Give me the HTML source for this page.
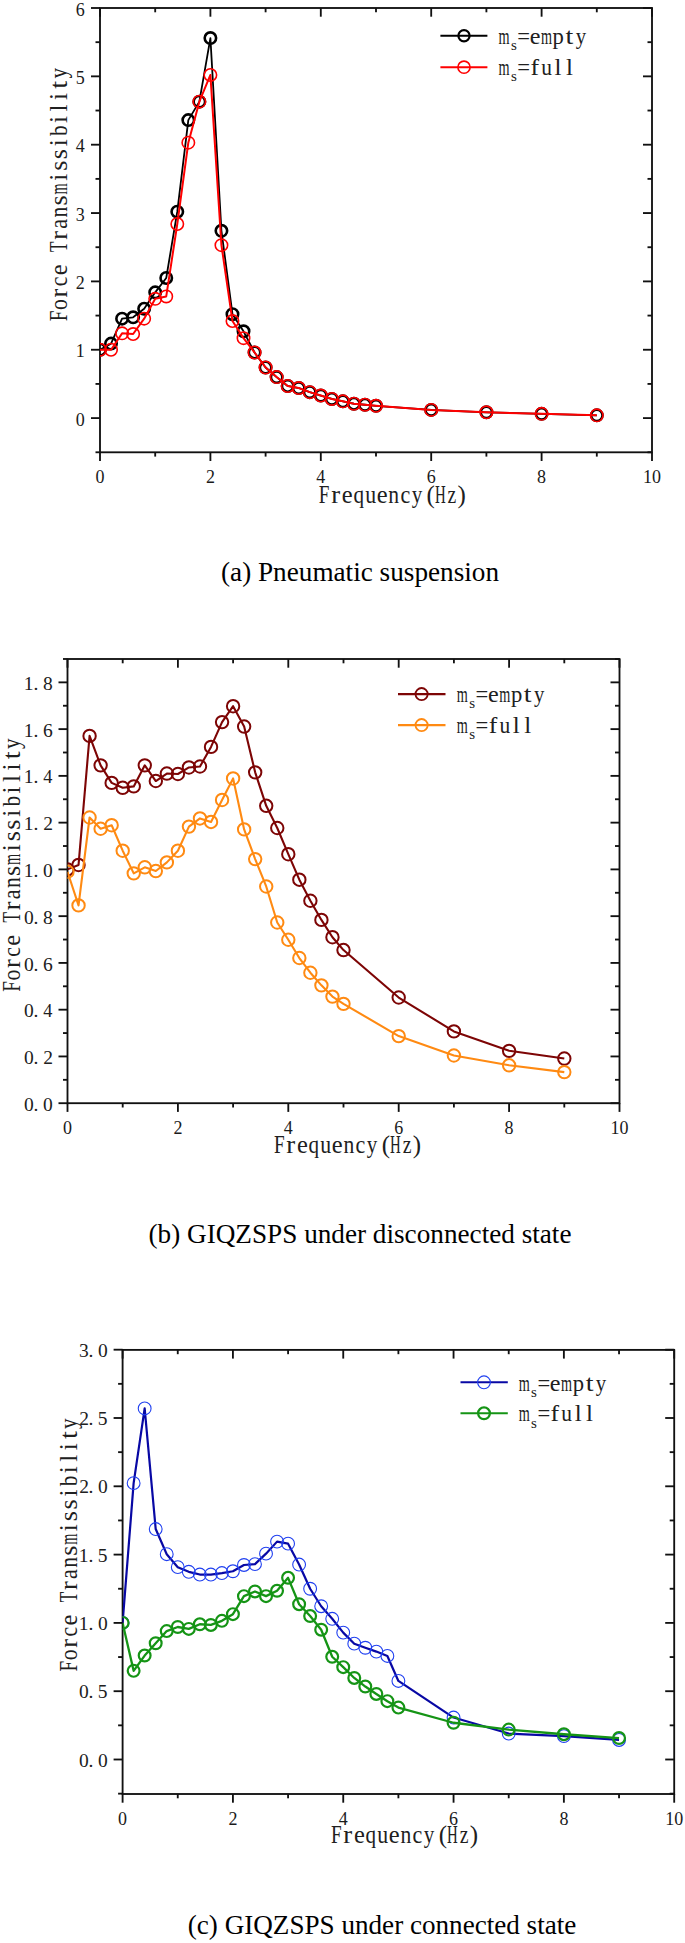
<!DOCTYPE html>
<html><head><meta charset="utf-8"><style>html,body{margin:0;padding:0;background:#fff;overflow:hidden;}svg{display:block;}</style></head>
<body>
<svg width="685" height="1943" viewBox="0 0 685 1943">
<rect width="685" height="1943" fill="#fff"/>
<rect x="100" y="8" width="552" height="444.3" fill="none" stroke="#111" stroke-width="1.85"/>
<line x1="95.5" y1="452.28" x2="100" y2="452.28" stroke="#111" stroke-width="1.85"/>
<line x1="652" y1="452.28" x2="647.5" y2="452.28" stroke="#111" stroke-width="1.85"/>
<line x1="91" y1="418.1" x2="100" y2="418.1" stroke="#111" stroke-width="1.85"/>
<line x1="652" y1="418.1" x2="643" y2="418.1" stroke="#111" stroke-width="1.85"/>
<line x1="95.5" y1="383.93" x2="100" y2="383.93" stroke="#111" stroke-width="1.85"/>
<line x1="652" y1="383.93" x2="647.5" y2="383.93" stroke="#111" stroke-width="1.85"/>
<line x1="91" y1="349.75" x2="100" y2="349.75" stroke="#111" stroke-width="1.85"/>
<line x1="652" y1="349.75" x2="643" y2="349.75" stroke="#111" stroke-width="1.85"/>
<line x1="95.5" y1="315.58" x2="100" y2="315.58" stroke="#111" stroke-width="1.85"/>
<line x1="652" y1="315.58" x2="647.5" y2="315.58" stroke="#111" stroke-width="1.85"/>
<line x1="91" y1="281.4" x2="100" y2="281.4" stroke="#111" stroke-width="1.85"/>
<line x1="652" y1="281.4" x2="643" y2="281.4" stroke="#111" stroke-width="1.85"/>
<line x1="95.5" y1="247.23" x2="100" y2="247.23" stroke="#111" stroke-width="1.85"/>
<line x1="652" y1="247.23" x2="647.5" y2="247.23" stroke="#111" stroke-width="1.85"/>
<line x1="91" y1="213.05" x2="100" y2="213.05" stroke="#111" stroke-width="1.85"/>
<line x1="652" y1="213.05" x2="643" y2="213.05" stroke="#111" stroke-width="1.85"/>
<line x1="95.5" y1="178.88" x2="100" y2="178.88" stroke="#111" stroke-width="1.85"/>
<line x1="652" y1="178.88" x2="647.5" y2="178.88" stroke="#111" stroke-width="1.85"/>
<line x1="91" y1="144.7" x2="100" y2="144.7" stroke="#111" stroke-width="1.85"/>
<line x1="652" y1="144.7" x2="643" y2="144.7" stroke="#111" stroke-width="1.85"/>
<line x1="95.5" y1="110.53" x2="100" y2="110.53" stroke="#111" stroke-width="1.85"/>
<line x1="652" y1="110.53" x2="647.5" y2="110.53" stroke="#111" stroke-width="1.85"/>
<line x1="91" y1="76.35" x2="100" y2="76.35" stroke="#111" stroke-width="1.85"/>
<line x1="652" y1="76.35" x2="643" y2="76.35" stroke="#111" stroke-width="1.85"/>
<line x1="95.5" y1="42.18" x2="100" y2="42.18" stroke="#111" stroke-width="1.85"/>
<line x1="652" y1="42.18" x2="647.5" y2="42.18" stroke="#111" stroke-width="1.85"/>
<line x1="91" y1="8" x2="100" y2="8" stroke="#111" stroke-width="1.85"/>
<line x1="652" y1="8" x2="643" y2="8" stroke="#111" stroke-width="1.85"/>
<line x1="100" y1="452.3" x2="100" y2="461" stroke="#111" stroke-width="1.85"/>
<line x1="100" y1="8" x2="100" y2="16.7" stroke="#111" stroke-width="1.85"/>
<line x1="155.2" y1="452.3" x2="155.2" y2="456.6" stroke="#111" stroke-width="1.85"/>
<line x1="155.2" y1="8" x2="155.2" y2="12.3" stroke="#111" stroke-width="1.85"/>
<line x1="210.4" y1="452.3" x2="210.4" y2="461" stroke="#111" stroke-width="1.85"/>
<line x1="210.4" y1="8" x2="210.4" y2="16.7" stroke="#111" stroke-width="1.85"/>
<line x1="265.6" y1="452.3" x2="265.6" y2="456.6" stroke="#111" stroke-width="1.85"/>
<line x1="265.6" y1="8" x2="265.6" y2="12.3" stroke="#111" stroke-width="1.85"/>
<line x1="320.8" y1="452.3" x2="320.8" y2="461" stroke="#111" stroke-width="1.85"/>
<line x1="320.8" y1="8" x2="320.8" y2="16.7" stroke="#111" stroke-width="1.85"/>
<line x1="376" y1="452.3" x2="376" y2="456.6" stroke="#111" stroke-width="1.85"/>
<line x1="376" y1="8" x2="376" y2="12.3" stroke="#111" stroke-width="1.85"/>
<line x1="431.2" y1="452.3" x2="431.2" y2="461" stroke="#111" stroke-width="1.85"/>
<line x1="431.2" y1="8" x2="431.2" y2="16.7" stroke="#111" stroke-width="1.85"/>
<line x1="486.4" y1="452.3" x2="486.4" y2="456.6" stroke="#111" stroke-width="1.85"/>
<line x1="486.4" y1="8" x2="486.4" y2="12.3" stroke="#111" stroke-width="1.85"/>
<line x1="541.6" y1="452.3" x2="541.6" y2="461" stroke="#111" stroke-width="1.85"/>
<line x1="541.6" y1="8" x2="541.6" y2="16.7" stroke="#111" stroke-width="1.85"/>
<line x1="596.8" y1="452.3" x2="596.8" y2="456.6" stroke="#111" stroke-width="1.85"/>
<line x1="596.8" y1="8" x2="596.8" y2="12.3" stroke="#111" stroke-width="1.85"/>
<line x1="652" y1="452.3" x2="652" y2="461" stroke="#111" stroke-width="1.85"/>
<line x1="652" y1="8" x2="652" y2="16.7" stroke="#111" stroke-width="1.85"/>
<clipPath id="c53"><rect x="100" y="8" width="552" height="444.3"/></clipPath>
<g clip-path="url(#c53)">
<polyline points="100,349.75 111.04,343.6 122.08,318.65 133.12,317.28 144.16,308.74 155.2,292.34 166.24,277.98 177.28,211.68 188.32,120.09 199.36,101.64 210.4,38.07 221.44,230.82 232.48,314.21 243.52,331.3 254.56,352.48 265.6,367.52 276.64,377.09 287.68,385.98 298.72,388.03 309.76,392.13 320.8,395.54 331.84,398.96 342.88,401.35 353.92,403.75 364.96,404.77 376,405.8 431.2,409.9 486.4,412.29 541.6,413.86 596.8,415.37" fill="none" stroke="#000" stroke-width="1.8" stroke-linejoin="round"/>
<circle cx="100" cy="349.75" r="5.7" fill="none" stroke="#000" stroke-width="2.6"/>
<circle cx="111.04" cy="343.6" r="5.7" fill="none" stroke="#000" stroke-width="2.6"/>
<circle cx="122.08" cy="318.65" r="5.7" fill="none" stroke="#000" stroke-width="2.6"/>
<circle cx="133.12" cy="317.28" r="5.7" fill="none" stroke="#000" stroke-width="2.6"/>
<circle cx="144.16" cy="308.74" r="5.7" fill="none" stroke="#000" stroke-width="2.6"/>
<circle cx="155.2" cy="292.34" r="5.7" fill="none" stroke="#000" stroke-width="2.6"/>
<circle cx="166.24" cy="277.98" r="5.7" fill="none" stroke="#000" stroke-width="2.6"/>
<circle cx="177.28" cy="211.68" r="5.7" fill="none" stroke="#000" stroke-width="2.6"/>
<circle cx="188.32" cy="120.09" r="5.7" fill="none" stroke="#000" stroke-width="2.6"/>
<circle cx="199.36" cy="101.64" r="5.7" fill="none" stroke="#000" stroke-width="2.6"/>
<circle cx="210.4" cy="38.07" r="5.7" fill="none" stroke="#000" stroke-width="2.6"/>
<circle cx="221.44" cy="230.82" r="5.7" fill="none" stroke="#000" stroke-width="2.6"/>
<circle cx="232.48" cy="314.21" r="5.7" fill="none" stroke="#000" stroke-width="2.6"/>
<circle cx="243.52" cy="331.3" r="5.7" fill="none" stroke="#000" stroke-width="2.6"/>
<circle cx="254.56" cy="352.48" r="5.7" fill="none" stroke="#000" stroke-width="2.6"/>
<circle cx="265.6" cy="367.52" r="5.7" fill="none" stroke="#000" stroke-width="2.6"/>
<circle cx="276.64" cy="377.09" r="5.7" fill="none" stroke="#000" stroke-width="2.6"/>
<circle cx="287.68" cy="385.98" r="5.7" fill="none" stroke="#000" stroke-width="2.6"/>
<circle cx="298.72" cy="388.03" r="5.7" fill="none" stroke="#000" stroke-width="2.6"/>
<circle cx="309.76" cy="392.13" r="5.7" fill="none" stroke="#000" stroke-width="2.6"/>
<circle cx="320.8" cy="395.54" r="5.7" fill="none" stroke="#000" stroke-width="2.6"/>
<circle cx="331.84" cy="398.96" r="5.7" fill="none" stroke="#000" stroke-width="2.6"/>
<circle cx="342.88" cy="401.35" r="5.7" fill="none" stroke="#000" stroke-width="2.6"/>
<circle cx="353.92" cy="403.75" r="5.7" fill="none" stroke="#000" stroke-width="2.6"/>
<circle cx="364.96" cy="404.77" r="5.7" fill="none" stroke="#000" stroke-width="2.6"/>
<circle cx="376" cy="405.8" r="5.7" fill="none" stroke="#000" stroke-width="2.6"/>
<circle cx="431.2" cy="409.9" r="5.7" fill="none" stroke="#000" stroke-width="2.6"/>
<circle cx="486.4" cy="412.29" r="5.7" fill="none" stroke="#000" stroke-width="2.6"/>
<circle cx="541.6" cy="413.86" r="5.7" fill="none" stroke="#000" stroke-width="2.6"/>
<circle cx="596.8" cy="415.37" r="5.7" fill="none" stroke="#000" stroke-width="2.6"/>
<polyline points="100,349.75 111.04,349.75 122.08,333.35 133.12,334.03 144.16,318.65 155.2,298.83 166.24,296.44 177.28,223.99 188.32,142.65 199.36,101.64 210.4,74.98 221.44,245.17 232.48,321.04 243.52,338.13 254.56,352.48 265.6,367.52 276.64,377.09 287.68,385.98 298.72,388.03 309.76,392.13 320.8,395.54 331.84,398.96 342.88,401.35 353.92,403.75 364.96,404.77 376,405.8 431.2,409.9 486.4,412.29 541.6,413.86 596.8,415.37" fill="none" stroke="#f00" stroke-width="2" stroke-linejoin="round"/>
<circle cx="100" cy="349.75" r="6.2" fill="none" stroke="#f00" stroke-width="1.6"/>
<circle cx="111.04" cy="349.75" r="6.2" fill="none" stroke="#f00" stroke-width="1.6"/>
<circle cx="122.08" cy="333.35" r="6.2" fill="none" stroke="#f00" stroke-width="1.6"/>
<circle cx="133.12" cy="334.03" r="6.2" fill="none" stroke="#f00" stroke-width="1.6"/>
<circle cx="144.16" cy="318.65" r="6.2" fill="none" stroke="#f00" stroke-width="1.6"/>
<circle cx="155.2" cy="298.83" r="6.2" fill="none" stroke="#f00" stroke-width="1.6"/>
<circle cx="166.24" cy="296.44" r="6.2" fill="none" stroke="#f00" stroke-width="1.6"/>
<circle cx="177.28" cy="223.99" r="6.2" fill="none" stroke="#f00" stroke-width="1.6"/>
<circle cx="188.32" cy="142.65" r="6.2" fill="none" stroke="#f00" stroke-width="1.6"/>
<circle cx="199.36" cy="101.64" r="6.2" fill="none" stroke="#f00" stroke-width="1.6"/>
<circle cx="210.4" cy="74.98" r="6.2" fill="none" stroke="#f00" stroke-width="1.6"/>
<circle cx="221.44" cy="245.17" r="6.2" fill="none" stroke="#f00" stroke-width="1.6"/>
<circle cx="232.48" cy="321.04" r="6.2" fill="none" stroke="#f00" stroke-width="1.6"/>
<circle cx="243.52" cy="338.13" r="6.2" fill="none" stroke="#f00" stroke-width="1.6"/>
<circle cx="254.56" cy="352.48" r="6.2" fill="none" stroke="#f00" stroke-width="1.6"/>
<circle cx="265.6" cy="367.52" r="6.2" fill="none" stroke="#f00" stroke-width="1.6"/>
<circle cx="276.64" cy="377.09" r="6.2" fill="none" stroke="#f00" stroke-width="1.6"/>
<circle cx="287.68" cy="385.98" r="6.2" fill="none" stroke="#f00" stroke-width="1.6"/>
<circle cx="298.72" cy="388.03" r="6.2" fill="none" stroke="#f00" stroke-width="1.6"/>
<circle cx="309.76" cy="392.13" r="6.2" fill="none" stroke="#f00" stroke-width="1.6"/>
<circle cx="320.8" cy="395.54" r="6.2" fill="none" stroke="#f00" stroke-width="1.6"/>
<circle cx="331.84" cy="398.96" r="6.2" fill="none" stroke="#f00" stroke-width="1.6"/>
<circle cx="342.88" cy="401.35" r="6.2" fill="none" stroke="#f00" stroke-width="1.6"/>
<circle cx="353.92" cy="403.75" r="6.2" fill="none" stroke="#f00" stroke-width="1.6"/>
<circle cx="364.96" cy="404.77" r="6.2" fill="none" stroke="#f00" stroke-width="1.6"/>
<circle cx="376" cy="405.8" r="6.2" fill="none" stroke="#f00" stroke-width="1.6"/>
<circle cx="431.2" cy="409.9" r="6.2" fill="none" stroke="#f00" stroke-width="1.6"/>
<circle cx="486.4" cy="412.29" r="6.2" fill="none" stroke="#f00" stroke-width="1.6"/>
<circle cx="541.6" cy="413.86" r="6.2" fill="none" stroke="#f00" stroke-width="1.6"/>
<circle cx="596.8" cy="415.37" r="6.2" fill="none" stroke="#f00" stroke-width="1.6"/>
</g>
<rect x="67.5" y="659" width="552" height="444.2" fill="none" stroke="#111" stroke-width="1.85"/>
<line x1="58.5" y1="1103.2" x2="67.5" y2="1103.2" stroke="#111" stroke-width="1.85"/>
<line x1="619.5" y1="1103.2" x2="610.5" y2="1103.2" stroke="#111" stroke-width="1.85"/>
<line x1="63" y1="1079.82" x2="67.5" y2="1079.82" stroke="#111" stroke-width="1.85"/>
<line x1="619.5" y1="1079.82" x2="615" y2="1079.82" stroke="#111" stroke-width="1.85"/>
<line x1="58.5" y1="1056.44" x2="67.5" y2="1056.44" stroke="#111" stroke-width="1.85"/>
<line x1="619.5" y1="1056.44" x2="610.5" y2="1056.44" stroke="#111" stroke-width="1.85"/>
<line x1="63" y1="1033.06" x2="67.5" y2="1033.06" stroke="#111" stroke-width="1.85"/>
<line x1="619.5" y1="1033.06" x2="615" y2="1033.06" stroke="#111" stroke-width="1.85"/>
<line x1="58.5" y1="1009.68" x2="67.5" y2="1009.68" stroke="#111" stroke-width="1.85"/>
<line x1="619.5" y1="1009.68" x2="610.5" y2="1009.68" stroke="#111" stroke-width="1.85"/>
<line x1="63" y1="986.3" x2="67.5" y2="986.3" stroke="#111" stroke-width="1.85"/>
<line x1="619.5" y1="986.3" x2="615" y2="986.3" stroke="#111" stroke-width="1.85"/>
<line x1="58.5" y1="962.92" x2="67.5" y2="962.92" stroke="#111" stroke-width="1.85"/>
<line x1="619.5" y1="962.92" x2="610.5" y2="962.92" stroke="#111" stroke-width="1.85"/>
<line x1="63" y1="939.54" x2="67.5" y2="939.54" stroke="#111" stroke-width="1.85"/>
<line x1="619.5" y1="939.54" x2="615" y2="939.54" stroke="#111" stroke-width="1.85"/>
<line x1="58.5" y1="916.16" x2="67.5" y2="916.16" stroke="#111" stroke-width="1.85"/>
<line x1="619.5" y1="916.16" x2="610.5" y2="916.16" stroke="#111" stroke-width="1.85"/>
<line x1="63" y1="892.78" x2="67.5" y2="892.78" stroke="#111" stroke-width="1.85"/>
<line x1="619.5" y1="892.78" x2="615" y2="892.78" stroke="#111" stroke-width="1.85"/>
<line x1="58.5" y1="869.4" x2="67.5" y2="869.4" stroke="#111" stroke-width="1.85"/>
<line x1="619.5" y1="869.4" x2="610.5" y2="869.4" stroke="#111" stroke-width="1.85"/>
<line x1="63" y1="846.02" x2="67.5" y2="846.02" stroke="#111" stroke-width="1.85"/>
<line x1="619.5" y1="846.02" x2="615" y2="846.02" stroke="#111" stroke-width="1.85"/>
<line x1="58.5" y1="822.64" x2="67.5" y2="822.64" stroke="#111" stroke-width="1.85"/>
<line x1="619.5" y1="822.64" x2="610.5" y2="822.64" stroke="#111" stroke-width="1.85"/>
<line x1="63" y1="799.26" x2="67.5" y2="799.26" stroke="#111" stroke-width="1.85"/>
<line x1="619.5" y1="799.26" x2="615" y2="799.26" stroke="#111" stroke-width="1.85"/>
<line x1="58.5" y1="775.88" x2="67.5" y2="775.88" stroke="#111" stroke-width="1.85"/>
<line x1="619.5" y1="775.88" x2="610.5" y2="775.88" stroke="#111" stroke-width="1.85"/>
<line x1="63" y1="752.5" x2="67.5" y2="752.5" stroke="#111" stroke-width="1.85"/>
<line x1="619.5" y1="752.5" x2="615" y2="752.5" stroke="#111" stroke-width="1.85"/>
<line x1="58.5" y1="729.12" x2="67.5" y2="729.12" stroke="#111" stroke-width="1.85"/>
<line x1="619.5" y1="729.12" x2="610.5" y2="729.12" stroke="#111" stroke-width="1.85"/>
<line x1="63" y1="705.74" x2="67.5" y2="705.74" stroke="#111" stroke-width="1.85"/>
<line x1="619.5" y1="705.74" x2="615" y2="705.74" stroke="#111" stroke-width="1.85"/>
<line x1="58.5" y1="682.36" x2="67.5" y2="682.36" stroke="#111" stroke-width="1.85"/>
<line x1="619.5" y1="682.36" x2="610.5" y2="682.36" stroke="#111" stroke-width="1.85"/>
<line x1="63" y1="658.98" x2="67.5" y2="658.98" stroke="#111" stroke-width="1.85"/>
<line x1="619.5" y1="658.98" x2="615" y2="658.98" stroke="#111" stroke-width="1.85"/>
<line x1="67.5" y1="1103.2" x2="67.5" y2="1111.9" stroke="#111" stroke-width="1.85"/>
<line x1="67.5" y1="659" x2="67.5" y2="667.7" stroke="#111" stroke-width="1.85"/>
<line x1="122.7" y1="1103.2" x2="122.7" y2="1107.5" stroke="#111" stroke-width="1.85"/>
<line x1="122.7" y1="659" x2="122.7" y2="663.3" stroke="#111" stroke-width="1.85"/>
<line x1="177.9" y1="1103.2" x2="177.9" y2="1111.9" stroke="#111" stroke-width="1.85"/>
<line x1="177.9" y1="659" x2="177.9" y2="667.7" stroke="#111" stroke-width="1.85"/>
<line x1="233.1" y1="1103.2" x2="233.1" y2="1107.5" stroke="#111" stroke-width="1.85"/>
<line x1="233.1" y1="659" x2="233.1" y2="663.3" stroke="#111" stroke-width="1.85"/>
<line x1="288.3" y1="1103.2" x2="288.3" y2="1111.9" stroke="#111" stroke-width="1.85"/>
<line x1="288.3" y1="659" x2="288.3" y2="667.7" stroke="#111" stroke-width="1.85"/>
<line x1="343.5" y1="1103.2" x2="343.5" y2="1107.5" stroke="#111" stroke-width="1.85"/>
<line x1="343.5" y1="659" x2="343.5" y2="663.3" stroke="#111" stroke-width="1.85"/>
<line x1="398.7" y1="1103.2" x2="398.7" y2="1111.9" stroke="#111" stroke-width="1.85"/>
<line x1="398.7" y1="659" x2="398.7" y2="667.7" stroke="#111" stroke-width="1.85"/>
<line x1="453.9" y1="1103.2" x2="453.9" y2="1107.5" stroke="#111" stroke-width="1.85"/>
<line x1="453.9" y1="659" x2="453.9" y2="663.3" stroke="#111" stroke-width="1.85"/>
<line x1="509.1" y1="1103.2" x2="509.1" y2="1111.9" stroke="#111" stroke-width="1.85"/>
<line x1="509.1" y1="659" x2="509.1" y2="667.7" stroke="#111" stroke-width="1.85"/>
<line x1="564.3" y1="1103.2" x2="564.3" y2="1107.5" stroke="#111" stroke-width="1.85"/>
<line x1="564.3" y1="659" x2="564.3" y2="663.3" stroke="#111" stroke-width="1.85"/>
<line x1="619.5" y1="1103.2" x2="619.5" y2="1111.9" stroke="#111" stroke-width="1.85"/>
<line x1="619.5" y1="659" x2="619.5" y2="667.7" stroke="#111" stroke-width="1.85"/>
<clipPath id="c181"><rect x="67.5" y="659" width="552" height="444.2"/></clipPath>
<g clip-path="url(#c181)">
<polyline points="67.5,869.4 78.54,864.96 89.58,735.9 100.62,765.36 111.66,782.89 122.7,787.8 133.74,786.4 144.78,765.36 155.82,781.02 166.86,773.54 177.9,774.01 188.94,767.46 199.98,766.53 211.02,746.89 222.06,722.11 233.1,706.21 244.14,726.55 255.18,772.37 266.22,805.81 277.26,828.02 288.3,854.2 299.34,879.69 310.38,900.73 321.42,919.9 332.46,937.2 343.5,950.06 398.7,997.52 453.9,1031.42 509.1,1050.83 564.3,1058.54" fill="none" stroke="#7d0505" stroke-width="2.1" stroke-linejoin="round"/>
<circle cx="67.5" cy="869.4" r="6.2" fill="none" stroke="#7d0505" stroke-width="2"/>
<circle cx="78.54" cy="864.96" r="6.2" fill="none" stroke="#7d0505" stroke-width="2"/>
<circle cx="89.58" cy="735.9" r="6.2" fill="none" stroke="#7d0505" stroke-width="2"/>
<circle cx="100.62" cy="765.36" r="6.2" fill="none" stroke="#7d0505" stroke-width="2"/>
<circle cx="111.66" cy="782.89" r="6.2" fill="none" stroke="#7d0505" stroke-width="2"/>
<circle cx="122.7" cy="787.8" r="6.2" fill="none" stroke="#7d0505" stroke-width="2"/>
<circle cx="133.74" cy="786.4" r="6.2" fill="none" stroke="#7d0505" stroke-width="2"/>
<circle cx="144.78" cy="765.36" r="6.2" fill="none" stroke="#7d0505" stroke-width="2"/>
<circle cx="155.82" cy="781.02" r="6.2" fill="none" stroke="#7d0505" stroke-width="2"/>
<circle cx="166.86" cy="773.54" r="6.2" fill="none" stroke="#7d0505" stroke-width="2"/>
<circle cx="177.9" cy="774.01" r="6.2" fill="none" stroke="#7d0505" stroke-width="2"/>
<circle cx="188.94" cy="767.46" r="6.2" fill="none" stroke="#7d0505" stroke-width="2"/>
<circle cx="199.98" cy="766.53" r="6.2" fill="none" stroke="#7d0505" stroke-width="2"/>
<circle cx="211.02" cy="746.89" r="6.2" fill="none" stroke="#7d0505" stroke-width="2"/>
<circle cx="222.06" cy="722.11" r="6.2" fill="none" stroke="#7d0505" stroke-width="2"/>
<circle cx="233.1" cy="706.21" r="6.2" fill="none" stroke="#7d0505" stroke-width="2"/>
<circle cx="244.14" cy="726.55" r="6.2" fill="none" stroke="#7d0505" stroke-width="2"/>
<circle cx="255.18" cy="772.37" r="6.2" fill="none" stroke="#7d0505" stroke-width="2"/>
<circle cx="266.22" cy="805.81" r="6.2" fill="none" stroke="#7d0505" stroke-width="2"/>
<circle cx="277.26" cy="828.02" r="6.2" fill="none" stroke="#7d0505" stroke-width="2"/>
<circle cx="288.3" cy="854.2" r="6.2" fill="none" stroke="#7d0505" stroke-width="2"/>
<circle cx="299.34" cy="879.69" r="6.2" fill="none" stroke="#7d0505" stroke-width="2"/>
<circle cx="310.38" cy="900.73" r="6.2" fill="none" stroke="#7d0505" stroke-width="2"/>
<circle cx="321.42" cy="919.9" r="6.2" fill="none" stroke="#7d0505" stroke-width="2"/>
<circle cx="332.46" cy="937.2" r="6.2" fill="none" stroke="#7d0505" stroke-width="2"/>
<circle cx="343.5" cy="950.06" r="6.2" fill="none" stroke="#7d0505" stroke-width="2"/>
<circle cx="398.7" cy="997.52" r="6.2" fill="none" stroke="#7d0505" stroke-width="2"/>
<circle cx="453.9" cy="1031.42" r="6.2" fill="none" stroke="#7d0505" stroke-width="2"/>
<circle cx="509.1" cy="1050.83" r="6.2" fill="none" stroke="#7d0505" stroke-width="2"/>
<circle cx="564.3" cy="1058.54" r="6.2" fill="none" stroke="#7d0505" stroke-width="2"/>
<polyline points="67.5,871.74 78.54,905.41 89.58,817.5 100.62,828.72 111.66,825.21 122.7,850.7 133.74,873.37 144.78,867.3 155.82,871.04 166.86,862.39 177.9,850.7 188.94,826.61 199.98,818.43 211.02,821.94 222.06,799.96 233.1,778.45 244.14,829.42 255.18,859.11 266.22,886.47 277.26,922.47 288.3,939.77 299.34,958.01 310.38,972.74 321.42,985.36 332.46,996.59 343.5,1003.84 398.7,1036.1 453.9,1055.5 509.1,1065.32 564.3,1072.1" fill="none" stroke="#ff8a12" stroke-width="2.1" stroke-linejoin="round"/>
<circle cx="67.5" cy="871.74" r="6.2" fill="none" stroke="#ff8a12" stroke-width="2"/>
<circle cx="78.54" cy="905.41" r="6.2" fill="none" stroke="#ff8a12" stroke-width="2"/>
<circle cx="89.58" cy="817.5" r="6.2" fill="none" stroke="#ff8a12" stroke-width="2"/>
<circle cx="100.62" cy="828.72" r="6.2" fill="none" stroke="#ff8a12" stroke-width="2"/>
<circle cx="111.66" cy="825.21" r="6.2" fill="none" stroke="#ff8a12" stroke-width="2"/>
<circle cx="122.7" cy="850.7" r="6.2" fill="none" stroke="#ff8a12" stroke-width="2"/>
<circle cx="133.74" cy="873.37" r="6.2" fill="none" stroke="#ff8a12" stroke-width="2"/>
<circle cx="144.78" cy="867.3" r="6.2" fill="none" stroke="#ff8a12" stroke-width="2"/>
<circle cx="155.82" cy="871.04" r="6.2" fill="none" stroke="#ff8a12" stroke-width="2"/>
<circle cx="166.86" cy="862.39" r="6.2" fill="none" stroke="#ff8a12" stroke-width="2"/>
<circle cx="177.9" cy="850.7" r="6.2" fill="none" stroke="#ff8a12" stroke-width="2"/>
<circle cx="188.94" cy="826.61" r="6.2" fill="none" stroke="#ff8a12" stroke-width="2"/>
<circle cx="199.98" cy="818.43" r="6.2" fill="none" stroke="#ff8a12" stroke-width="2"/>
<circle cx="211.02" cy="821.94" r="6.2" fill="none" stroke="#ff8a12" stroke-width="2"/>
<circle cx="222.06" cy="799.96" r="6.2" fill="none" stroke="#ff8a12" stroke-width="2"/>
<circle cx="233.1" cy="778.45" r="6.2" fill="none" stroke="#ff8a12" stroke-width="2"/>
<circle cx="244.14" cy="829.42" r="6.2" fill="none" stroke="#ff8a12" stroke-width="2"/>
<circle cx="255.18" cy="859.11" r="6.2" fill="none" stroke="#ff8a12" stroke-width="2"/>
<circle cx="266.22" cy="886.47" r="6.2" fill="none" stroke="#ff8a12" stroke-width="2"/>
<circle cx="277.26" cy="922.47" r="6.2" fill="none" stroke="#ff8a12" stroke-width="2"/>
<circle cx="288.3" cy="939.77" r="6.2" fill="none" stroke="#ff8a12" stroke-width="2"/>
<circle cx="299.34" cy="958.01" r="6.2" fill="none" stroke="#ff8a12" stroke-width="2"/>
<circle cx="310.38" cy="972.74" r="6.2" fill="none" stroke="#ff8a12" stroke-width="2"/>
<circle cx="321.42" cy="985.36" r="6.2" fill="none" stroke="#ff8a12" stroke-width="2"/>
<circle cx="332.46" cy="996.59" r="6.2" fill="none" stroke="#ff8a12" stroke-width="2"/>
<circle cx="343.5" cy="1003.84" r="6.2" fill="none" stroke="#ff8a12" stroke-width="2"/>
<circle cx="398.7" cy="1036.1" r="6.2" fill="none" stroke="#ff8a12" stroke-width="2"/>
<circle cx="453.9" cy="1055.5" r="6.2" fill="none" stroke="#ff8a12" stroke-width="2"/>
<circle cx="509.1" cy="1065.32" r="6.2" fill="none" stroke="#ff8a12" stroke-width="2"/>
<circle cx="564.3" cy="1072.1" r="6.2" fill="none" stroke="#ff8a12" stroke-width="2"/>
</g>
<rect x="122.6" y="1349.9" width="551.6" height="444.1" fill="none" stroke="#111" stroke-width="1.85"/>
<line x1="118.1" y1="1793.65" x2="122.6" y2="1793.65" stroke="#111" stroke-width="1.85"/>
<line x1="674.2" y1="1793.65" x2="669.7" y2="1793.65" stroke="#111" stroke-width="1.85"/>
<line x1="113.6" y1="1759.5" x2="122.6" y2="1759.5" stroke="#111" stroke-width="1.85"/>
<line x1="674.2" y1="1759.5" x2="665.2" y2="1759.5" stroke="#111" stroke-width="1.85"/>
<line x1="118.1" y1="1725.35" x2="122.6" y2="1725.35" stroke="#111" stroke-width="1.85"/>
<line x1="674.2" y1="1725.35" x2="669.7" y2="1725.35" stroke="#111" stroke-width="1.85"/>
<line x1="113.6" y1="1691.2" x2="122.6" y2="1691.2" stroke="#111" stroke-width="1.85"/>
<line x1="674.2" y1="1691.2" x2="665.2" y2="1691.2" stroke="#111" stroke-width="1.85"/>
<line x1="118.1" y1="1657.05" x2="122.6" y2="1657.05" stroke="#111" stroke-width="1.85"/>
<line x1="674.2" y1="1657.05" x2="669.7" y2="1657.05" stroke="#111" stroke-width="1.85"/>
<line x1="113.6" y1="1622.9" x2="122.6" y2="1622.9" stroke="#111" stroke-width="1.85"/>
<line x1="674.2" y1="1622.9" x2="665.2" y2="1622.9" stroke="#111" stroke-width="1.85"/>
<line x1="118.1" y1="1588.75" x2="122.6" y2="1588.75" stroke="#111" stroke-width="1.85"/>
<line x1="674.2" y1="1588.75" x2="669.7" y2="1588.75" stroke="#111" stroke-width="1.85"/>
<line x1="113.6" y1="1554.6" x2="122.6" y2="1554.6" stroke="#111" stroke-width="1.85"/>
<line x1="674.2" y1="1554.6" x2="665.2" y2="1554.6" stroke="#111" stroke-width="1.85"/>
<line x1="118.1" y1="1520.45" x2="122.6" y2="1520.45" stroke="#111" stroke-width="1.85"/>
<line x1="674.2" y1="1520.45" x2="669.7" y2="1520.45" stroke="#111" stroke-width="1.85"/>
<line x1="113.6" y1="1486.3" x2="122.6" y2="1486.3" stroke="#111" stroke-width="1.85"/>
<line x1="674.2" y1="1486.3" x2="665.2" y2="1486.3" stroke="#111" stroke-width="1.85"/>
<line x1="118.1" y1="1452.15" x2="122.6" y2="1452.15" stroke="#111" stroke-width="1.85"/>
<line x1="674.2" y1="1452.15" x2="669.7" y2="1452.15" stroke="#111" stroke-width="1.85"/>
<line x1="113.6" y1="1418" x2="122.6" y2="1418" stroke="#111" stroke-width="1.85"/>
<line x1="674.2" y1="1418" x2="665.2" y2="1418" stroke="#111" stroke-width="1.85"/>
<line x1="118.1" y1="1383.85" x2="122.6" y2="1383.85" stroke="#111" stroke-width="1.85"/>
<line x1="674.2" y1="1383.85" x2="669.7" y2="1383.85" stroke="#111" stroke-width="1.85"/>
<line x1="113.6" y1="1349.7" x2="122.6" y2="1349.7" stroke="#111" stroke-width="1.85"/>
<line x1="674.2" y1="1349.7" x2="665.2" y2="1349.7" stroke="#111" stroke-width="1.85"/>
<line x1="122.6" y1="1794" x2="122.6" y2="1802.7" stroke="#111" stroke-width="1.85"/>
<line x1="122.6" y1="1349.9" x2="122.6" y2="1358.6" stroke="#111" stroke-width="1.85"/>
<line x1="177.76" y1="1794" x2="177.76" y2="1798.3" stroke="#111" stroke-width="1.85"/>
<line x1="177.76" y1="1349.9" x2="177.76" y2="1354.2" stroke="#111" stroke-width="1.85"/>
<line x1="232.92" y1="1794" x2="232.92" y2="1802.7" stroke="#111" stroke-width="1.85"/>
<line x1="232.92" y1="1349.9" x2="232.92" y2="1358.6" stroke="#111" stroke-width="1.85"/>
<line x1="288.08" y1="1794" x2="288.08" y2="1798.3" stroke="#111" stroke-width="1.85"/>
<line x1="288.08" y1="1349.9" x2="288.08" y2="1354.2" stroke="#111" stroke-width="1.85"/>
<line x1="343.24" y1="1794" x2="343.24" y2="1802.7" stroke="#111" stroke-width="1.85"/>
<line x1="343.24" y1="1349.9" x2="343.24" y2="1358.6" stroke="#111" stroke-width="1.85"/>
<line x1="398.4" y1="1794" x2="398.4" y2="1798.3" stroke="#111" stroke-width="1.85"/>
<line x1="398.4" y1="1349.9" x2="398.4" y2="1354.2" stroke="#111" stroke-width="1.85"/>
<line x1="453.56" y1="1794" x2="453.56" y2="1802.7" stroke="#111" stroke-width="1.85"/>
<line x1="453.56" y1="1349.9" x2="453.56" y2="1358.6" stroke="#111" stroke-width="1.85"/>
<line x1="508.72" y1="1794" x2="508.72" y2="1798.3" stroke="#111" stroke-width="1.85"/>
<line x1="508.72" y1="1349.9" x2="508.72" y2="1354.2" stroke="#111" stroke-width="1.85"/>
<line x1="563.88" y1="1794" x2="563.88" y2="1802.7" stroke="#111" stroke-width="1.85"/>
<line x1="563.88" y1="1349.9" x2="563.88" y2="1358.6" stroke="#111" stroke-width="1.85"/>
<line x1="619.04" y1="1794" x2="619.04" y2="1798.3" stroke="#111" stroke-width="1.85"/>
<line x1="619.04" y1="1349.9" x2="619.04" y2="1354.2" stroke="#111" stroke-width="1.85"/>
<line x1="674.2" y1="1794" x2="674.2" y2="1802.7" stroke="#111" stroke-width="1.85"/>
<line x1="674.2" y1="1349.9" x2="674.2" y2="1358.6" stroke="#111" stroke-width="1.85"/>
<clipPath id="c297"><rect x="122.6" y="1349.9" width="551.6" height="444.1"/></clipPath>
<g clip-path="url(#c297)">
<polyline points="122.6,1622.9 133.63,1483.16 144.66,1408.44 155.7,1529.06 166.73,1554.19 177.76,1567.17 188.79,1571.81 199.82,1574.54 210.86,1574.54 221.89,1573.04 232.92,1571.27 243.95,1564.98 254.98,1564.16 266.02,1553.64 277.05,1541.62 288.08,1543.67 299.11,1564.57 310.14,1588.75 321.18,1606.23 332.21,1618.8 343.24,1632.6 354.27,1643.66 365.3,1647.76 376.34,1651.59 387.37,1655.96 398.4,1680.95 453.56,1717.56 508.72,1733.55 563.88,1736.14 619.04,1739.97" fill="none" stroke="#0808a4" stroke-width="2.2" stroke-linejoin="round"/>
<circle cx="122.6" cy="1622.9" r="6.4" fill="none" stroke="#2040f0" stroke-width="1.1"/>
<circle cx="133.63" cy="1483.16" r="6.4" fill="none" stroke="#2040f0" stroke-width="1.1"/>
<circle cx="144.66" cy="1408.44" r="6.4" fill="none" stroke="#2040f0" stroke-width="1.1"/>
<circle cx="155.7" cy="1529.06" r="6.4" fill="none" stroke="#2040f0" stroke-width="1.1"/>
<circle cx="166.73" cy="1554.19" r="6.4" fill="none" stroke="#2040f0" stroke-width="1.1"/>
<circle cx="177.76" cy="1567.17" r="6.4" fill="none" stroke="#2040f0" stroke-width="1.1"/>
<circle cx="188.79" cy="1571.81" r="6.4" fill="none" stroke="#2040f0" stroke-width="1.1"/>
<circle cx="199.82" cy="1574.54" r="6.4" fill="none" stroke="#2040f0" stroke-width="1.1"/>
<circle cx="210.86" cy="1574.54" r="6.4" fill="none" stroke="#2040f0" stroke-width="1.1"/>
<circle cx="221.89" cy="1573.04" r="6.4" fill="none" stroke="#2040f0" stroke-width="1.1"/>
<circle cx="232.92" cy="1571.27" r="6.4" fill="none" stroke="#2040f0" stroke-width="1.1"/>
<circle cx="243.95" cy="1564.98" r="6.4" fill="none" stroke="#2040f0" stroke-width="1.1"/>
<circle cx="254.98" cy="1564.16" r="6.4" fill="none" stroke="#2040f0" stroke-width="1.1"/>
<circle cx="266.02" cy="1553.64" r="6.4" fill="none" stroke="#2040f0" stroke-width="1.1"/>
<circle cx="277.05" cy="1541.62" r="6.4" fill="none" stroke="#2040f0" stroke-width="1.1"/>
<circle cx="288.08" cy="1543.67" r="6.4" fill="none" stroke="#2040f0" stroke-width="1.1"/>
<circle cx="299.11" cy="1564.57" r="6.4" fill="none" stroke="#2040f0" stroke-width="1.1"/>
<circle cx="310.14" cy="1588.75" r="6.4" fill="none" stroke="#2040f0" stroke-width="1.1"/>
<circle cx="321.18" cy="1606.23" r="6.4" fill="none" stroke="#2040f0" stroke-width="1.1"/>
<circle cx="332.21" cy="1618.8" r="6.4" fill="none" stroke="#2040f0" stroke-width="1.1"/>
<circle cx="343.24" cy="1632.6" r="6.4" fill="none" stroke="#2040f0" stroke-width="1.1"/>
<circle cx="354.27" cy="1643.66" r="6.4" fill="none" stroke="#2040f0" stroke-width="1.1"/>
<circle cx="365.3" cy="1647.76" r="6.4" fill="none" stroke="#2040f0" stroke-width="1.1"/>
<circle cx="376.34" cy="1651.59" r="6.4" fill="none" stroke="#2040f0" stroke-width="1.1"/>
<circle cx="387.37" cy="1655.96" r="6.4" fill="none" stroke="#2040f0" stroke-width="1.1"/>
<circle cx="398.4" cy="1680.95" r="6.4" fill="none" stroke="#2040f0" stroke-width="1.1"/>
<circle cx="453.56" cy="1717.56" r="6.4" fill="none" stroke="#2040f0" stroke-width="1.1"/>
<circle cx="508.72" cy="1733.55" r="6.4" fill="none" stroke="#2040f0" stroke-width="1.1"/>
<circle cx="563.88" cy="1736.14" r="6.4" fill="none" stroke="#2040f0" stroke-width="1.1"/>
<circle cx="619.04" cy="1739.97" r="6.4" fill="none" stroke="#2040f0" stroke-width="1.1"/>
<polyline points="122.6,1622.9 133.63,1670.85 144.66,1655.55 155.7,1643.25 166.73,1631.1 177.76,1627 188.79,1628.91 199.82,1624.27 210.86,1624.95 221.89,1620.85 232.92,1614.16 243.95,1596.13 254.98,1591.48 266.02,1596.13 277.05,1590.8 288.08,1577.82 299.11,1604.19 310.14,1616.07 321.18,1629.73 332.21,1656.78 343.24,1667.16 354.27,1677.95 365.3,1686.56 376.34,1693.93 387.37,1701.17 398.4,1707.59 453.56,1722.75 508.72,1729.58 563.88,1734.23 619.04,1738.05" fill="none" stroke="#159415" stroke-width="2.3" stroke-linejoin="round"/>
<circle cx="122.6" cy="1622.9" r="5.9" fill="none" stroke="#159415" stroke-width="2.2"/>
<circle cx="133.63" cy="1670.85" r="5.9" fill="none" stroke="#159415" stroke-width="2.2"/>
<circle cx="144.66" cy="1655.55" r="5.9" fill="none" stroke="#159415" stroke-width="2.2"/>
<circle cx="155.7" cy="1643.25" r="5.9" fill="none" stroke="#159415" stroke-width="2.2"/>
<circle cx="166.73" cy="1631.1" r="5.9" fill="none" stroke="#159415" stroke-width="2.2"/>
<circle cx="177.76" cy="1627" r="5.9" fill="none" stroke="#159415" stroke-width="2.2"/>
<circle cx="188.79" cy="1628.91" r="5.9" fill="none" stroke="#159415" stroke-width="2.2"/>
<circle cx="199.82" cy="1624.27" r="5.9" fill="none" stroke="#159415" stroke-width="2.2"/>
<circle cx="210.86" cy="1624.95" r="5.9" fill="none" stroke="#159415" stroke-width="2.2"/>
<circle cx="221.89" cy="1620.85" r="5.9" fill="none" stroke="#159415" stroke-width="2.2"/>
<circle cx="232.92" cy="1614.16" r="5.9" fill="none" stroke="#159415" stroke-width="2.2"/>
<circle cx="243.95" cy="1596.13" r="5.9" fill="none" stroke="#159415" stroke-width="2.2"/>
<circle cx="254.98" cy="1591.48" r="5.9" fill="none" stroke="#159415" stroke-width="2.2"/>
<circle cx="266.02" cy="1596.13" r="5.9" fill="none" stroke="#159415" stroke-width="2.2"/>
<circle cx="277.05" cy="1590.8" r="5.9" fill="none" stroke="#159415" stroke-width="2.2"/>
<circle cx="288.08" cy="1577.82" r="5.9" fill="none" stroke="#159415" stroke-width="2.2"/>
<circle cx="299.11" cy="1604.19" r="5.9" fill="none" stroke="#159415" stroke-width="2.2"/>
<circle cx="310.14" cy="1616.07" r="5.9" fill="none" stroke="#159415" stroke-width="2.2"/>
<circle cx="321.18" cy="1629.73" r="5.9" fill="none" stroke="#159415" stroke-width="2.2"/>
<circle cx="332.21" cy="1656.78" r="5.9" fill="none" stroke="#159415" stroke-width="2.2"/>
<circle cx="343.24" cy="1667.16" r="5.9" fill="none" stroke="#159415" stroke-width="2.2"/>
<circle cx="354.27" cy="1677.95" r="5.9" fill="none" stroke="#159415" stroke-width="2.2"/>
<circle cx="365.3" cy="1686.56" r="5.9" fill="none" stroke="#159415" stroke-width="2.2"/>
<circle cx="376.34" cy="1693.93" r="5.9" fill="none" stroke="#159415" stroke-width="2.2"/>
<circle cx="387.37" cy="1701.17" r="5.9" fill="none" stroke="#159415" stroke-width="2.2"/>
<circle cx="398.4" cy="1707.59" r="5.9" fill="none" stroke="#159415" stroke-width="2.2"/>
<circle cx="453.56" cy="1722.75" r="5.9" fill="none" stroke="#159415" stroke-width="2.2"/>
<circle cx="508.72" cy="1729.58" r="5.9" fill="none" stroke="#159415" stroke-width="2.2"/>
<circle cx="563.88" cy="1734.23" r="5.9" fill="none" stroke="#159415" stroke-width="2.2"/>
<circle cx="619.04" cy="1738.05" r="5.9" fill="none" stroke="#159415" stroke-width="2.2"/>
</g>
<text x="80.3" y="425.7" font-family='"Liberation Serif", serif' font-size="18" text-anchor="middle" fill="#1a1a1a">0</text>
<text x="80.3" y="357.35" font-family='"Liberation Serif", serif' font-size="18" text-anchor="middle" fill="#1a1a1a">1</text>
<text x="80.3" y="289" font-family='"Liberation Serif", serif' font-size="18" text-anchor="middle" fill="#1a1a1a">2</text>
<text x="80.3" y="220.65" font-family='"Liberation Serif", serif' font-size="18" text-anchor="middle" fill="#1a1a1a">3</text>
<text x="80.3" y="152.3" font-family='"Liberation Serif", serif' font-size="18" text-anchor="middle" fill="#1a1a1a">4</text>
<text x="80.3" y="83.95" font-family='"Liberation Serif", serif' font-size="18" text-anchor="middle" fill="#1a1a1a">5</text>
<text x="80.3" y="15.6" font-family='"Liberation Serif", serif' font-size="18" text-anchor="middle" fill="#1a1a1a">6</text>
<text x="100" y="483.2" font-family='"Liberation Serif", serif' font-size="18" text-anchor="middle" fill="#1a1a1a">0</text>
<text x="210.4" y="483.2" font-family='"Liberation Serif", serif' font-size="18" text-anchor="middle" fill="#1a1a1a">2</text>
<text x="320.8" y="483.2" font-family='"Liberation Serif", serif' font-size="18" text-anchor="middle" fill="#1a1a1a">4</text>
<text x="431.2" y="483.2" font-family='"Liberation Serif", serif' font-size="18" text-anchor="middle" fill="#1a1a1a">6</text>
<text x="541.6" y="483.2" font-family='"Liberation Serif", serif' font-size="18" text-anchor="middle" fill="#1a1a1a">8</text>
<text x="652" y="483.2" font-family='"Liberation Serif", serif' font-size="18" text-anchor="middle" fill="#1a1a1a">10</text>
<text transform="translate(24.12,1110.8)" font-family='"Liberation Serif", serif' font-size="19.5" fill="#202020">0</text>
<text transform="translate(33.56,1110.8)" font-family='"Liberation Serif", serif' font-size="19.5" fill="#202020">.</text>
<text transform="translate(43.02,1110.8)" font-family='"Liberation Serif", serif' font-size="19.5" fill="#202020">0</text>
<text transform="translate(24.12,1064.04)" font-family='"Liberation Serif", serif' font-size="19.5" fill="#202020">0</text>
<text transform="translate(33.56,1064.04)" font-family='"Liberation Serif", serif' font-size="19.5" fill="#202020">.</text>
<text transform="translate(43.13,1064.04)" font-family='"Liberation Serif", serif' font-size="19.5" fill="#202020">2</text>
<text transform="translate(24.12,1017.28)" font-family='"Liberation Serif", serif' font-size="19.5" fill="#202020">0</text>
<text transform="translate(33.56,1017.28)" font-family='"Liberation Serif", serif' font-size="19.5" fill="#202020">.</text>
<text transform="translate(43.29,1017.28) scale(0.938,1)" font-family='"Liberation Serif", serif' font-size="19.5" fill="#202020">4</text>
<text transform="translate(24.12,970.52)" font-family='"Liberation Serif", serif' font-size="19.5" fill="#202020">0</text>
<text transform="translate(33.56,970.52)" font-family='"Liberation Serif", serif' font-size="19.5" fill="#202020">.</text>
<text transform="translate(42.9,970.52)" font-family='"Liberation Serif", serif' font-size="19.5" fill="#202020">6</text>
<text transform="translate(24.12,923.76)" font-family='"Liberation Serif", serif' font-size="19.5" fill="#202020">0</text>
<text transform="translate(33.56,923.76)" font-family='"Liberation Serif", serif' font-size="19.5" fill="#202020">.</text>
<text transform="translate(43.02,923.76)" font-family='"Liberation Serif", serif' font-size="19.5" fill="#202020">8</text>
<text transform="translate(23.85,877)" font-family='"Liberation Serif", serif' font-size="19.5" fill="#202020">1</text>
<text transform="translate(33.56,877)" font-family='"Liberation Serif", serif' font-size="19.5" fill="#202020">.</text>
<text transform="translate(43.02,877)" font-family='"Liberation Serif", serif' font-size="19.5" fill="#202020">0</text>
<text transform="translate(23.85,830.24)" font-family='"Liberation Serif", serif' font-size="19.5" fill="#202020">1</text>
<text transform="translate(33.56,830.24)" font-family='"Liberation Serif", serif' font-size="19.5" fill="#202020">.</text>
<text transform="translate(43.13,830.24)" font-family='"Liberation Serif", serif' font-size="19.5" fill="#202020">2</text>
<text transform="translate(23.85,783.48)" font-family='"Liberation Serif", serif' font-size="19.5" fill="#202020">1</text>
<text transform="translate(33.56,783.48)" font-family='"Liberation Serif", serif' font-size="19.5" fill="#202020">.</text>
<text transform="translate(43.29,783.48) scale(0.938,1)" font-family='"Liberation Serif", serif' font-size="19.5" fill="#202020">4</text>
<text transform="translate(23.85,736.72)" font-family='"Liberation Serif", serif' font-size="19.5" fill="#202020">1</text>
<text transform="translate(33.56,736.72)" font-family='"Liberation Serif", serif' font-size="19.5" fill="#202020">.</text>
<text transform="translate(42.9,736.72)" font-family='"Liberation Serif", serif' font-size="19.5" fill="#202020">6</text>
<text transform="translate(23.85,689.96)" font-family='"Liberation Serif", serif' font-size="19.5" fill="#202020">1</text>
<text transform="translate(33.56,689.96)" font-family='"Liberation Serif", serif' font-size="19.5" fill="#202020">.</text>
<text transform="translate(43.02,689.96)" font-family='"Liberation Serif", serif' font-size="19.5" fill="#202020">8</text>
<text x="67.5" y="1134.3" font-family='"Liberation Serif", serif' font-size="18" text-anchor="middle" fill="#1a1a1a">0</text>
<text x="177.9" y="1134.3" font-family='"Liberation Serif", serif' font-size="18" text-anchor="middle" fill="#1a1a1a">2</text>
<text x="288.3" y="1134.3" font-family='"Liberation Serif", serif' font-size="18" text-anchor="middle" fill="#1a1a1a">4</text>
<text x="398.7" y="1134.3" font-family='"Liberation Serif", serif' font-size="18" text-anchor="middle" fill="#1a1a1a">6</text>
<text x="509.1" y="1134.3" font-family='"Liberation Serif", serif' font-size="18" text-anchor="middle" fill="#1a1a1a">8</text>
<text x="619.5" y="1134.3" font-family='"Liberation Serif", serif' font-size="18" text-anchor="middle" fill="#1a1a1a">10</text>
<text transform="translate(79.12,1766.5)" font-family='"Liberation Serif", serif' font-size="19.5" fill="#202020">0</text>
<text transform="translate(88.56,1766.5)" font-family='"Liberation Serif", serif' font-size="19.5" fill="#202020">.</text>
<text transform="translate(98.03,1766.5)" font-family='"Liberation Serif", serif' font-size="19.5" fill="#202020">0</text>
<text transform="translate(79.12,1698.2)" font-family='"Liberation Serif", serif' font-size="19.5" fill="#202020">0</text>
<text transform="translate(88.56,1698.2)" font-family='"Liberation Serif", serif' font-size="19.5" fill="#202020">.</text>
<text transform="translate(97.84,1698.2)" font-family='"Liberation Serif", serif' font-size="19.5" fill="#202020">5</text>
<text transform="translate(78.85,1629.9)" font-family='"Liberation Serif", serif' font-size="19.5" fill="#202020">1</text>
<text transform="translate(88.56,1629.9)" font-family='"Liberation Serif", serif' font-size="19.5" fill="#202020">.</text>
<text transform="translate(98.03,1629.9)" font-family='"Liberation Serif", serif' font-size="19.5" fill="#202020">0</text>
<text transform="translate(78.85,1561.6)" font-family='"Liberation Serif", serif' font-size="19.5" fill="#202020">1</text>
<text transform="translate(88.56,1561.6)" font-family='"Liberation Serif", serif' font-size="19.5" fill="#202020">.</text>
<text transform="translate(97.84,1561.6)" font-family='"Liberation Serif", serif' font-size="19.5" fill="#202020">5</text>
<text transform="translate(79.23,1493.3)" font-family='"Liberation Serif", serif' font-size="19.5" fill="#202020">2</text>
<text transform="translate(88.56,1493.3)" font-family='"Liberation Serif", serif' font-size="19.5" fill="#202020">.</text>
<text transform="translate(98.03,1493.3)" font-family='"Liberation Serif", serif' font-size="19.5" fill="#202020">0</text>
<text transform="translate(79.23,1425)" font-family='"Liberation Serif", serif' font-size="19.5" fill="#202020">2</text>
<text transform="translate(88.56,1425)" font-family='"Liberation Serif", serif' font-size="19.5" fill="#202020">.</text>
<text transform="translate(97.84,1425)" font-family='"Liberation Serif", serif' font-size="19.5" fill="#202020">5</text>
<text transform="translate(79.04,1356.7)" font-family='"Liberation Serif", serif' font-size="19.5" fill="#202020">3</text>
<text transform="translate(88.56,1356.7)" font-family='"Liberation Serif", serif' font-size="19.5" fill="#202020">.</text>
<text transform="translate(98.03,1356.7)" font-family='"Liberation Serif", serif' font-size="19.5" fill="#202020">0</text>
<text x="122.6" y="1824.5" font-family='"Liberation Serif", serif' font-size="18" text-anchor="middle" fill="#1a1a1a">0</text>
<text x="232.92" y="1824.5" font-family='"Liberation Serif", serif' font-size="18" text-anchor="middle" fill="#1a1a1a">2</text>
<text x="343.24" y="1824.5" font-family='"Liberation Serif", serif' font-size="18" text-anchor="middle" fill="#1a1a1a">4</text>
<text x="453.56" y="1824.5" font-family='"Liberation Serif", serif' font-size="18" text-anchor="middle" fill="#1a1a1a">6</text>
<text x="563.88" y="1824.5" font-family='"Liberation Serif", serif' font-size="18" text-anchor="middle" fill="#1a1a1a">8</text>
<text x="674.2" y="1824.5" font-family='"Liberation Serif", serif' font-size="18" text-anchor="middle" fill="#1a1a1a">10</text>
<text transform="translate(318.85,502.7) scale(0.766,1)" font-family='"Liberation Serif", serif' font-size="25" fill="#202020">F</text>
<text transform="translate(331.13,502.7) scale(1.070,1)" font-family='"Liberation Serif", serif' font-size="25" fill="#202020">r</text>
<text transform="translate(341.86,502.7) scale(0.980,1)" font-family='"Liberation Serif", serif' font-size="25" fill="#202020">e</text>
<text transform="translate(353.5,502.7) scale(0.845,1)" font-family='"Liberation Serif", serif' font-size="25" fill="#202020">q</text>
<text transform="translate(365.19,502.7) scale(0.871,1)" font-family='"Liberation Serif", serif' font-size="25" fill="#202020">u</text>
<text transform="translate(376.72,502.7) scale(0.980,1)" font-family='"Liberation Serif", serif' font-size="25" fill="#202020">e</text>
<text transform="translate(388.34,502.7) scale(0.865,1)" font-family='"Liberation Serif", serif' font-size="25" fill="#202020">n</text>
<text transform="translate(400.49,502.7) scale(0.880,1)" font-family='"Liberation Serif", serif' font-size="25" fill="#202020">c</text>
<text transform="translate(411.7,502.7) scale(0.845,1)" font-family='"Liberation Serif", serif' font-size="25" fill="#202020">y</text>
<text transform="translate(426.58,502.7)" font-family='"Liberation Serif", serif' font-size="25" fill="#202020">(</text>
<text transform="translate(434.94,502.7) scale(0.595,1)" font-family='"Liberation Serif", serif' font-size="25" fill="#202020">H</text>
<text transform="translate(447.57,502.7) scale(0.788,1)" font-family='"Liberation Serif", serif' font-size="25" fill="#202020">z</text>
<text transform="translate(457.53,502.7)" font-family='"Liberation Serif", serif' font-size="25" fill="#202020">)</text>
<text transform="translate(273.95,1152.6) scale(0.766,1)" font-family='"Liberation Serif", serif' font-size="25" fill="#202020">F</text>
<text transform="translate(286.23,1152.6) scale(1.070,1)" font-family='"Liberation Serif", serif' font-size="25" fill="#202020">r</text>
<text transform="translate(296.96,1152.6) scale(0.980,1)" font-family='"Liberation Serif", serif' font-size="25" fill="#202020">e</text>
<text transform="translate(308.6,1152.6) scale(0.845,1)" font-family='"Liberation Serif", serif' font-size="25" fill="#202020">q</text>
<text transform="translate(320.29,1152.6) scale(0.871,1)" font-family='"Liberation Serif", serif' font-size="25" fill="#202020">u</text>
<text transform="translate(331.82,1152.6) scale(0.980,1)" font-family='"Liberation Serif", serif' font-size="25" fill="#202020">e</text>
<text transform="translate(343.44,1152.6) scale(0.865,1)" font-family='"Liberation Serif", serif' font-size="25" fill="#202020">n</text>
<text transform="translate(355.59,1152.6) scale(0.880,1)" font-family='"Liberation Serif", serif' font-size="25" fill="#202020">c</text>
<text transform="translate(366.8,1152.6) scale(0.845,1)" font-family='"Liberation Serif", serif' font-size="25" fill="#202020">y</text>
<text transform="translate(381.68,1152.6)" font-family='"Liberation Serif", serif' font-size="25" fill="#202020">(</text>
<text transform="translate(390.04,1152.6) scale(0.595,1)" font-family='"Liberation Serif", serif' font-size="25" fill="#202020">H</text>
<text transform="translate(402.67,1152.6) scale(0.788,1)" font-family='"Liberation Serif", serif' font-size="25" fill="#202020">z</text>
<text transform="translate(412.63,1152.6)" font-family='"Liberation Serif", serif' font-size="25" fill="#202020">)</text>
<text transform="translate(330.95,1843.4) scale(0.766,1)" font-family='"Liberation Serif", serif' font-size="25" fill="#202020">F</text>
<text transform="translate(343.23,1843.4) scale(1.070,1)" font-family='"Liberation Serif", serif' font-size="25" fill="#202020">r</text>
<text transform="translate(353.96,1843.4) scale(0.980,1)" font-family='"Liberation Serif", serif' font-size="25" fill="#202020">e</text>
<text transform="translate(365.6,1843.4) scale(0.845,1)" font-family='"Liberation Serif", serif' font-size="25" fill="#202020">q</text>
<text transform="translate(377.29,1843.4) scale(0.871,1)" font-family='"Liberation Serif", serif' font-size="25" fill="#202020">u</text>
<text transform="translate(388.82,1843.4) scale(0.980,1)" font-family='"Liberation Serif", serif' font-size="25" fill="#202020">e</text>
<text transform="translate(400.44,1843.4) scale(0.865,1)" font-family='"Liberation Serif", serif' font-size="25" fill="#202020">n</text>
<text transform="translate(412.59,1843.4) scale(0.880,1)" font-family='"Liberation Serif", serif' font-size="25" fill="#202020">c</text>
<text transform="translate(423.8,1843.4) scale(0.845,1)" font-family='"Liberation Serif", serif' font-size="25" fill="#202020">y</text>
<text transform="translate(438.68,1843.4)" font-family='"Liberation Serif", serif' font-size="25" fill="#202020">(</text>
<text transform="translate(447.04,1843.4) scale(0.595,1)" font-family='"Liberation Serif", serif' font-size="25" fill="#202020">H</text>
<text transform="translate(459.67,1843.4) scale(0.788,1)" font-family='"Liberation Serif", serif' font-size="25" fill="#202020">z</text>
<text transform="translate(469.63,1843.4)" font-family='"Liberation Serif", serif' font-size="25" fill="#202020">)</text>
<g transform="translate(66.7,321.8) rotate(-90)">
<text transform="translate(0.55,0) scale(0.762,1)" font-family='"Liberation Serif", serif' font-size="25" fill="#202020">F</text>
<text transform="translate(11.88,0) scale(0.873,1)" font-family='"Liberation Serif", serif' font-size="25" fill="#202020">o</text>
<text transform="translate(24.32,0) scale(1.064,1)" font-family='"Liberation Serif", serif' font-size="25" fill="#202020">r</text>
<text transform="translate(35.52,0) scale(0.875,1)" font-family='"Liberation Serif", serif' font-size="25" fill="#202020">c</text>
<text transform="translate(46.56,0) scale(0.974,1)" font-family='"Liberation Serif", serif' font-size="25" fill="#202020">e</text>
<text transform="translate(69.92,0) scale(0.682,1)" font-family='"Liberation Serif", serif' font-size="25" fill="#202020">T</text>
<text transform="translate(82.12,0) scale(1.064,1)" font-family='"Liberation Serif", serif' font-size="25" fill="#202020">r</text>
<text transform="translate(93.15,0) scale(0.878,1)" font-family='"Liberation Serif", serif' font-size="25" fill="#202020">a</text>
<text transform="translate(104.36,0) scale(0.861,1)" font-family='"Liberation Serif", serif' font-size="25" fill="#202020">n</text>
<text transform="translate(116.27,0) scale(1.037,1)" font-family='"Liberation Serif", serif' font-size="25" fill="#202020">s</text>
<text transform="translate(127.32,0) scale(0.574,1)" font-family='"Liberation Serif", serif' font-size="25" fill="#202020">m</text>
<text transform="translate(140.96,0) scale(1.011,1)" font-family='"Liberation Serif", serif' font-size="25" fill="#202020">i</text>
<text transform="translate(150.95,0) scale(1.037,1)" font-family='"Liberation Serif", serif' font-size="25" fill="#202020">s</text>
<text transform="translate(162.51,0) scale(1.037,1)" font-family='"Liberation Serif", serif' font-size="25" fill="#202020">s</text>
<text transform="translate(175.64,0) scale(1.011,1)" font-family='"Liberation Serif", serif' font-size="25" fill="#202020">i</text>
<text transform="translate(185.83,0) scale(0.851,1)" font-family='"Liberation Serif", serif' font-size="25" fill="#202020">b</text>
<text transform="translate(198.76,0) scale(1.011,1)" font-family='"Liberation Serif", serif' font-size="25" fill="#202020">i</text>
<text transform="translate(210.35,0) scale(1.011,1)" font-family='"Liberation Serif", serif' font-size="25" fill="#202020">l</text>
<text transform="translate(221.88,0) scale(1.011,1)" font-family='"Liberation Serif", serif' font-size="25" fill="#202020">i</text>
<text transform="translate(233.01,0) scale(1.129,1)" font-family='"Liberation Serif", serif' font-size="25" fill="#202020">t</text>
<text transform="translate(243.2,0) scale(0.841,1)" font-family='"Liberation Serif", serif' font-size="25" fill="#202020">y</text>
</g>
<g transform="translate(19.5,992.3) rotate(-90)">
<text transform="translate(0.55,0) scale(0.762,1)" font-family='"Liberation Serif", serif' font-size="25" fill="#202020">F</text>
<text transform="translate(11.88,0) scale(0.873,1)" font-family='"Liberation Serif", serif' font-size="25" fill="#202020">o</text>
<text transform="translate(24.32,0) scale(1.064,1)" font-family='"Liberation Serif", serif' font-size="25" fill="#202020">r</text>
<text transform="translate(35.52,0) scale(0.875,1)" font-family='"Liberation Serif", serif' font-size="25" fill="#202020">c</text>
<text transform="translate(46.56,0) scale(0.974,1)" font-family='"Liberation Serif", serif' font-size="25" fill="#202020">e</text>
<text transform="translate(69.92,0) scale(0.682,1)" font-family='"Liberation Serif", serif' font-size="25" fill="#202020">T</text>
<text transform="translate(82.12,0) scale(1.064,1)" font-family='"Liberation Serif", serif' font-size="25" fill="#202020">r</text>
<text transform="translate(93.15,0) scale(0.878,1)" font-family='"Liberation Serif", serif' font-size="25" fill="#202020">a</text>
<text transform="translate(104.36,0) scale(0.861,1)" font-family='"Liberation Serif", serif' font-size="25" fill="#202020">n</text>
<text transform="translate(116.27,0) scale(1.037,1)" font-family='"Liberation Serif", serif' font-size="25" fill="#202020">s</text>
<text transform="translate(127.32,0) scale(0.574,1)" font-family='"Liberation Serif", serif' font-size="25" fill="#202020">m</text>
<text transform="translate(140.96,0) scale(1.011,1)" font-family='"Liberation Serif", serif' font-size="25" fill="#202020">i</text>
<text transform="translate(150.95,0) scale(1.037,1)" font-family='"Liberation Serif", serif' font-size="25" fill="#202020">s</text>
<text transform="translate(162.51,0) scale(1.037,1)" font-family='"Liberation Serif", serif' font-size="25" fill="#202020">s</text>
<text transform="translate(175.64,0) scale(1.011,1)" font-family='"Liberation Serif", serif' font-size="25" fill="#202020">i</text>
<text transform="translate(185.83,0) scale(0.851,1)" font-family='"Liberation Serif", serif' font-size="25" fill="#202020">b</text>
<text transform="translate(198.76,0) scale(1.011,1)" font-family='"Liberation Serif", serif' font-size="25" fill="#202020">i</text>
<text transform="translate(210.35,0) scale(1.011,1)" font-family='"Liberation Serif", serif' font-size="25" fill="#202020">l</text>
<text transform="translate(221.88,0) scale(1.011,1)" font-family='"Liberation Serif", serif' font-size="25" fill="#202020">i</text>
<text transform="translate(233.01,0) scale(1.129,1)" font-family='"Liberation Serif", serif' font-size="25" fill="#202020">t</text>
<text transform="translate(243.2,0) scale(0.841,1)" font-family='"Liberation Serif", serif' font-size="25" fill="#202020">y</text>
</g>
<g transform="translate(77.4,1672.1) rotate(-90)">
<text transform="translate(0.55,0) scale(0.762,1)" font-family='"Liberation Serif", serif' font-size="25" fill="#202020">F</text>
<text transform="translate(11.88,0) scale(0.873,1)" font-family='"Liberation Serif", serif' font-size="25" fill="#202020">o</text>
<text transform="translate(24.32,0) scale(1.064,1)" font-family='"Liberation Serif", serif' font-size="25" fill="#202020">r</text>
<text transform="translate(35.52,0) scale(0.875,1)" font-family='"Liberation Serif", serif' font-size="25" fill="#202020">c</text>
<text transform="translate(46.56,0) scale(0.974,1)" font-family='"Liberation Serif", serif' font-size="25" fill="#202020">e</text>
<text transform="translate(69.92,0) scale(0.682,1)" font-family='"Liberation Serif", serif' font-size="25" fill="#202020">T</text>
<text transform="translate(82.12,0) scale(1.064,1)" font-family='"Liberation Serif", serif' font-size="25" fill="#202020">r</text>
<text transform="translate(93.15,0) scale(0.878,1)" font-family='"Liberation Serif", serif' font-size="25" fill="#202020">a</text>
<text transform="translate(104.36,0) scale(0.861,1)" font-family='"Liberation Serif", serif' font-size="25" fill="#202020">n</text>
<text transform="translate(116.27,0) scale(1.037,1)" font-family='"Liberation Serif", serif' font-size="25" fill="#202020">s</text>
<text transform="translate(127.32,0) scale(0.574,1)" font-family='"Liberation Serif", serif' font-size="25" fill="#202020">m</text>
<text transform="translate(140.96,0) scale(1.011,1)" font-family='"Liberation Serif", serif' font-size="25" fill="#202020">i</text>
<text transform="translate(150.95,0) scale(1.037,1)" font-family='"Liberation Serif", serif' font-size="25" fill="#202020">s</text>
<text transform="translate(162.51,0) scale(1.037,1)" font-family='"Liberation Serif", serif' font-size="25" fill="#202020">s</text>
<text transform="translate(175.64,0) scale(1.011,1)" font-family='"Liberation Serif", serif' font-size="25" fill="#202020">i</text>
<text transform="translate(185.83,0) scale(0.851,1)" font-family='"Liberation Serif", serif' font-size="25" fill="#202020">b</text>
<text transform="translate(198.76,0) scale(1.011,1)" font-family='"Liberation Serif", serif' font-size="25" fill="#202020">i</text>
<text transform="translate(210.35,0) scale(1.011,1)" font-family='"Liberation Serif", serif' font-size="25" fill="#202020">l</text>
<text transform="translate(221.88,0) scale(1.011,1)" font-family='"Liberation Serif", serif' font-size="25" fill="#202020">i</text>
<text transform="translate(233.01,0) scale(1.129,1)" font-family='"Liberation Serif", serif' font-size="25" fill="#202020">t</text>
<text transform="translate(243.2,0) scale(0.841,1)" font-family='"Liberation Serif", serif' font-size="25" fill="#202020">y</text>
</g>
<line x1="440.4" y1="35.8" x2="487.4" y2="35.8" stroke="#000" stroke-width="2.1"/>
<circle cx="464" cy="35.8" r="5.6" fill="none" stroke="#000" stroke-width="2.2"/>
<text transform="translate(498.56,43.7) scale(0.618,1)" font-family='"Liberation Serif", serif' font-size="23" fill="#202020">m</text>
<text transform="translate(510.94,49.9)" font-family='"Liberation Serif", serif' font-size="15" fill="#202020">s</text>
<text transform="translate(517.28,43.7) scale(0.984,1)" font-family='"Liberation Serif", serif' font-size="23" fill="#202020">=</text>
<text transform="translate(529.72,43.7) scale(1.049,1)" font-family='"Liberation Serif", serif' font-size="23" fill="#202020">e</text>
<text transform="translate(541.01,43.7) scale(0.618,1)" font-family='"Liberation Serif", serif' font-size="23" fill="#202020">m</text>
<text transform="translate(552.62,43.7) scale(0.985,1)" font-family='"Liberation Serif", serif' font-size="23" fill="#202020">p</text>
<text transform="translate(565.54,43.7) scale(1.215,1)" font-family='"Liberation Serif", serif' font-size="23" fill="#202020">t</text>
<text transform="translate(575.63,43.7) scale(0.905,1)" font-family='"Liberation Serif", serif' font-size="23" fill="#202020">y</text>
<line x1="440.4" y1="67.2" x2="487.4" y2="67.2" stroke="#f00" stroke-width="2.1"/>
<circle cx="464" cy="67.2" r="6.1" fill="none" stroke="#f00" stroke-width="1.6"/>
<text transform="translate(498.56,75.1) scale(0.618,1)" font-family='"Liberation Serif", serif' font-size="23" fill="#202020">m</text>
<text transform="translate(510.94,81.3)" font-family='"Liberation Serif", serif' font-size="15" fill="#202020">s</text>
<text transform="translate(517.28,75.1) scale(0.984,1)" font-family='"Liberation Serif", serif' font-size="23" fill="#202020">=</text>
<text transform="translate(530.44,75.1) scale(1.120,1)" font-family='"Liberation Serif", serif' font-size="23" fill="#202020">f</text>
<text transform="translate(541.25,75.1) scale(0.933,1)" font-family='"Liberation Serif", serif' font-size="23" fill="#202020">u</text>
<text transform="translate(554.55,75.1) scale(1.089,1)" font-family='"Liberation Serif", serif' font-size="23" fill="#202020">l</text>
<text transform="translate(566,75.1) scale(1.089,1)" font-family='"Liberation Serif", serif' font-size="23" fill="#202020">l</text>
<line x1="398" y1="694.1" x2="445.5" y2="694.1" stroke="#7d0505" stroke-width="2.1"/>
<circle cx="421.6" cy="694.1" r="6.1" fill="none" stroke="#7d0505" stroke-width="1.8"/>
<text transform="translate(456.86,701.9) scale(0.618,1)" font-family='"Liberation Serif", serif' font-size="23" fill="#202020">m</text>
<text transform="translate(469.24,708.1)" font-family='"Liberation Serif", serif' font-size="15" fill="#202020">s</text>
<text transform="translate(475.58,701.9) scale(0.984,1)" font-family='"Liberation Serif", serif' font-size="23" fill="#202020">=</text>
<text transform="translate(488.02,701.9) scale(1.049,1)" font-family='"Liberation Serif", serif' font-size="23" fill="#202020">e</text>
<text transform="translate(499.31,701.9) scale(0.618,1)" font-family='"Liberation Serif", serif' font-size="23" fill="#202020">m</text>
<text transform="translate(510.92,701.9) scale(0.985,1)" font-family='"Liberation Serif", serif' font-size="23" fill="#202020">p</text>
<text transform="translate(523.84,701.9) scale(1.215,1)" font-family='"Liberation Serif", serif' font-size="23" fill="#202020">t</text>
<text transform="translate(533.93,701.9) scale(0.905,1)" font-family='"Liberation Serif", serif' font-size="23" fill="#202020">y</text>
<line x1="398" y1="725.1" x2="445.5" y2="725.1" stroke="#ff8a12" stroke-width="2.1"/>
<circle cx="421.6" cy="725.1" r="6.1" fill="none" stroke="#ff8a12" stroke-width="1.8"/>
<text transform="translate(456.86,733.1) scale(0.618,1)" font-family='"Liberation Serif", serif' font-size="23" fill="#202020">m</text>
<text transform="translate(469.24,739.3)" font-family='"Liberation Serif", serif' font-size="15" fill="#202020">s</text>
<text transform="translate(475.58,733.1) scale(0.984,1)" font-family='"Liberation Serif", serif' font-size="23" fill="#202020">=</text>
<text transform="translate(488.74,733.1) scale(1.120,1)" font-family='"Liberation Serif", serif' font-size="23" fill="#202020">f</text>
<text transform="translate(499.55,733.1) scale(0.933,1)" font-family='"Liberation Serif", serif' font-size="23" fill="#202020">u</text>
<text transform="translate(512.85,733.1) scale(1.089,1)" font-family='"Liberation Serif", serif' font-size="23" fill="#202020">l</text>
<text transform="translate(524.3,733.1) scale(1.089,1)" font-family='"Liberation Serif", serif' font-size="23" fill="#202020">l</text>
<line x1="460.5" y1="1382.3" x2="507.8" y2="1382.3" stroke="#0808a4" stroke-width="2.1"/>
<circle cx="484" cy="1382.3" r="6.4" fill="none" stroke="#2040f0" stroke-width="1.1"/>
<text transform="translate(518.66,1390.6) scale(0.618,1)" font-family='"Liberation Serif", serif' font-size="23" fill="#202020">m</text>
<text transform="translate(531.04,1396.8)" font-family='"Liberation Serif", serif' font-size="15" fill="#202020">s</text>
<text transform="translate(537.38,1390.6) scale(0.984,1)" font-family='"Liberation Serif", serif' font-size="23" fill="#202020">=</text>
<text transform="translate(549.82,1390.6) scale(1.049,1)" font-family='"Liberation Serif", serif' font-size="23" fill="#202020">e</text>
<text transform="translate(561.11,1390.6) scale(0.618,1)" font-family='"Liberation Serif", serif' font-size="23" fill="#202020">m</text>
<text transform="translate(572.72,1390.6) scale(0.985,1)" font-family='"Liberation Serif", serif' font-size="23" fill="#202020">p</text>
<text transform="translate(585.64,1390.6) scale(1.215,1)" font-family='"Liberation Serif", serif' font-size="23" fill="#202020">t</text>
<text transform="translate(595.73,1390.6) scale(0.905,1)" font-family='"Liberation Serif", serif' font-size="23" fill="#202020">y</text>
<line x1="460.5" y1="1413.3" x2="507.8" y2="1413.3" stroke="#159415" stroke-width="2.1"/>
<circle cx="484" cy="1413.3" r="5.9" fill="none" stroke="#159415" stroke-width="2.2"/>
<text transform="translate(518.66,1421.3) scale(0.618,1)" font-family='"Liberation Serif", serif' font-size="23" fill="#202020">m</text>
<text transform="translate(531.04,1427.5)" font-family='"Liberation Serif", serif' font-size="15" fill="#202020">s</text>
<text transform="translate(537.38,1421.3) scale(0.984,1)" font-family='"Liberation Serif", serif' font-size="23" fill="#202020">=</text>
<text transform="translate(550.54,1421.3) scale(1.120,1)" font-family='"Liberation Serif", serif' font-size="23" fill="#202020">f</text>
<text transform="translate(561.35,1421.3) scale(0.933,1)" font-family='"Liberation Serif", serif' font-size="23" fill="#202020">u</text>
<text transform="translate(574.65,1421.3) scale(1.089,1)" font-family='"Liberation Serif", serif' font-size="23" fill="#202020">l</text>
<text transform="translate(586.1,1421.3) scale(1.089,1)" font-family='"Liberation Serif", serif' font-size="23" fill="#202020">l</text>
<text x="221" y="580.7" font-family='"Liberation Serif", serif' font-size="26.5" textLength="278" lengthAdjust="spacingAndGlyphs" fill="#000">(a) Pneumatic suspension</text>
<text x="148.5" y="1242.6" font-family='"Liberation Serif", serif' font-size="26.5" textLength="423" lengthAdjust="spacingAndGlyphs" fill="#000">(b) GIQZSPS under disconnected state</text>
<text x="187.8" y="1933.9" font-family='"Liberation Serif", serif' font-size="26.5" textLength="388.5" lengthAdjust="spacingAndGlyphs" fill="#000">(c) GIQZSPS under connected state</text>
</svg>
</body></html>
